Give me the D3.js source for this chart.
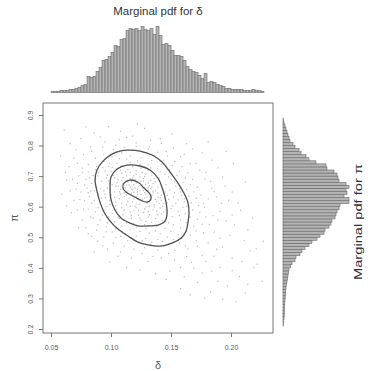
<!DOCTYPE html>
<html>
<head>
<meta charset="utf-8">
<script src="https://cdn.jsdelivr.net/npm/d3@7/dist/d3.min.js"></script>
<style>
  html, body { margin: 0; padding: 0; background: #fff; }
  svg { display: block; font-family: "Liberation Sans", Arial, Helvetica, sans-serif; }
</style>
</head>
<body>
<svg id="chart" width="368" height="371"></svg>
<script>
// ---- Axis ticks ----
const deltaTicks = [0.05, 0.10, 0.15, 0.20];
const piTicks = [0.2, 0.3, 0.4, 0.5, 0.6, 0.7, 0.8, 0.9];

// ---- Marginal histogram of delta (bins of 0.0025 starting at 0.05) ----
const deltaBinStart = 0.05;
const deltaBinWidth = 0.0025;
const deltaCounts = [10,10,10,20,20,20,30,30,40,50,70,80,160,150,160,210,250,320,330,360,
  400,470,460,530,540,620,640,630,640,620,660,630,620,640,580,660,570,480,490,470,
  420,370,370,360,320,260,230,210,200,170,140,190,100,110,100,80,70,60,40,40,
  30,30,30,30,20,20,20,30,20,20,10];

// ---- Marginal histogram of pi (bins of 0.01 starting at 0.21) ----
const piBinStart = 0.21;
const piBinWidth = 0.01;
const piCounts = [7,8,10,12,13,15,17,18,20,22,25,27,30,33,40,45,50,55,60,75,
  90,120,130,170,190,220,260,290,340,370,410,420,460,480,490,520,530,540,560,570,
  660,660,610,640,630,660,630,560,550,540,510,440,430,330,260,230,180,160,120,100,
  70,60,50,40,30,20,10,5,0,0,0];

// ---- Joint posterior draws (delta, pi) ----
const deltaDraws = [
  0.118,0.122,0.126,0.129,0.115,0.121,0.131,0.124,0.117,0.128,0.134,0.112,0.120,0.126,0.133,0.119,0.123,0.137,0.114,0.127,
  0.130,0.110,0.125,0.139,0.116,0.132,0.121,0.108,0.136,0.119,0.127,0.113,0.124,0.141,0.118,0.131,0.109,0.135,0.122,0.129,
  0.115,0.126,0.138,0.111,0.133,0.120,0.117,0.142,0.106,0.128,
  0.102,0.098,0.105,0.112,0.118,0.126,0.134,0.140,0.146,0.149,0.152,0.147,0.150,0.144,0.139,0.131,0.123,0.116,0.109,0.104,
  0.100,0.097,0.103,0.107,0.113,0.119,0.127,0.135,0.143,0.148,0.145,0.141,0.136,0.129,0.121,0.113,0.106,0.101,0.154,0.156,
  0.151,0.143,0.134,0.125,0.117,0.110,0.104,0.099,0.095,0.094,0.096,0.100,0.108,0.116,0.124,0.133,0.141,0.148,0.153,0.157,
  0.159,0.161,0.160,0.157,0.148,0.138,0.128,0.119,0.111,0.106,
  0.090,0.087,0.088,0.089,0.091,0.094,0.098,0.103,0.109,0.116,0.124,0.132,0.141,0.150,0.158,0.163,0.166,0.168,0.167,0.165,
  0.163,0.160,0.155,0.149,0.142,0.134,0.125,0.116,0.107,0.099,0.093,0.085,0.084,0.083,0.086,0.089,0.093,0.097,0.104,0.112,
  0.121,0.129,0.139,0.147,0.156,0.163,0.169,0.172,0.174,0.173,0.171,0.169,0.166,0.162,0.157,0.151,0.144,0.136,0.127,0.118,
  0.109,0.101,0.094,0.088,0.081,0.079,0.080,0.082,
  0.072,0.066,0.061,0.075,0.083,0.095,0.104,0.113,0.121,0.132,0.146,0.158,0.171,0.179,0.183,0.186,0.181,0.178,0.185,0.182,
  0.177,0.171,0.162,0.153,0.144,0.133,0.123,0.114,0.104,0.096,0.089,0.083,0.077,0.074,0.071,0.068,0.076,0.192,0.196,0.191,
  0.188,0.201,0.176,0.167,0.158,0.184,0.207,0.197,0.212,0.204,0.219,0.214,0.208,0.195,0.189,0.168,0.141,0.128,0.098,0.086,
  0.062,0.067,0.081,0.093,0.108,0.135,0.149,0.172,0.221,0.226,
  0.097,0.103,0.109,0.114,0.119,0.125,0.131,0.137,0.143,0.147,0.153,0.156,0.151,0.146,0.141,0.137,0.129,0.121,0.114,0.108,
  0.104,0.099,0.092,0.091,0.095,0.099,0.104,0.111,0.117,0.124,0.132,0.138,0.144,0.139,0.135,0.131,0.127,0.121,0.116,0.108,
  0.101,0.095,0.089,0.086,0.092,0.096,0.101,0.107,0.113,0.121,0.129,0.137,0.145,0.152,0.158,0.162,0.163,0.161,0.158,0.154,
  0.150,0.145,0.139,0.131,0.122,0.113,0.105,0.098,0.092,0.087,0.082,0.078,0.081,0.084,0.087,0.091,0.096,0.101,0.108,0.117,
  0.126,0.134,0.143,0.152,0.159,0.166,0.171,0.176,0.179,0.177,0.175,0.172,0.168,0.164,0.159,0.153,0.147,0.139,0.131,0.121,
  0.111,0.102,0.094,0.087,0.081,0.076,0.073,0.072,0.075,0.078,0.081,0.085,0.088,0.094,0.102,0.111,0.119,0.128,0.139,0.148,
  0.157,0.164,0.172,0.181,0.186,0.189,0.191,0.188,0.184,0.178,0.174,0.166,0.161,0.152,0.142,0.133,0.118,0.107,0.093,0.084,
  0.077,0.069,0.065,0.063,0.066,0.069,0.072,0.076,0.079,0.084,0.089,0.097,0.106,0.117,0.126,0.131,0.142,0.153,0.163,0.169,
  0.179,0.186,0.193,0.199,0.203,0.201,0.198,0.201,0.193,0.184,0.176,0.163,0.151,0.122,0.108,0.091,0.079,0.071,0.058,0.059,
  0.063,0.073,0.086,0.099,0.113,0.124,0.137,0.146,0.161,0.176,0.191,0.209,0.216,0.211,0.218,0.206,0.212,0.202,0.196,0.181,
  0.158,0.183,0.193,0.189,0.201,0.214,0.178,0.166,0.222,0.227,
  0.120,0.124,0.128,0.116,0.113,0.122,0.130,0.126,0.119,0.133,0.125,0.121,0.117,0.114,0.129,0.134,0.137,0.140,0.132,0.124,
  0.111,0.107,0.105,0.110,0.118,0.123,0.128,0.136,0.142,0.144,0.139,0.135,0.128,0.114,0.109,0.103,0.109,0.116,0.131,0.142
];
const piDraws = [
  0.655,0.648,0.662,0.641,0.671,0.633,0.652,0.676,0.644,0.628,0.637,0.662,0.689,0.618,0.659,0.626,0.667,0.624,0.651,0.684,
  0.612,0.676,0.640,0.645,0.691,0.668,0.609,0.657,0.606,0.672,0.653,0.638,0.697,0.629,0.615,0.677,0.685,0.651,0.657,0.599,
  0.628,0.671,0.616,0.646,0.686,0.601,0.682,0.638,0.667,0.661,
  0.702,0.684,0.721,0.714,0.731,0.712,0.703,0.694,0.672,0.655,0.631,0.612,0.594,0.583,0.574,0.566,0.572,0.583,0.597,0.615,
  0.638,0.661,0.648,0.626,0.606,0.588,0.581,0.589,0.601,0.624,0.648,0.671,0.692,0.706,0.717,0.701,0.689,0.672,0.611,0.584,
  0.567,0.556,0.549,0.556,0.562,0.574,0.589,0.607,0.629,0.652,0.694,0.716,0.733,0.745,0.738,0.727,0.714,0.698,0.681,0.659,
  0.638,0.616,0.598,0.571,0.547,0.537,0.541,0.546,0.556,0.566,
  0.712,0.689,0.664,0.638,0.612,0.588,0.566,0.551,0.537,0.526,0.519,0.514,0.511,0.519,0.531,0.548,0.566,0.589,0.612,0.634,
  0.657,0.679,0.702,0.721,0.738,0.751,0.759,0.766,0.757,0.741,0.728,0.702,0.676,0.651,0.621,0.597,0.573,0.547,0.528,0.512,
  0.503,0.496,0.493,0.501,0.508,0.518,0.536,0.559,0.581,0.604,0.627,0.648,0.672,0.694,0.716,0.734,0.752,0.767,0.778,0.784,
  0.776,0.763,0.748,0.731,0.714,0.689,0.661,0.633,
  0.742,0.806,0.851,0.823,0.796,0.812,0.801,0.826,0.809,0.796,0.781,0.763,0.741,0.712,0.683,0.649,0.626,0.598,0.571,0.542,
  0.514,0.489,0.472,0.458,0.471,0.477,0.482,0.489,0.499,0.518,0.541,0.566,0.592,0.623,0.657,0.689,0.711,0.611,0.553,0.497,
  0.461,0.432,0.441,0.418,0.401,0.389,0.372,0.341,0.318,0.289,0.401,0.524,0.588,0.667,0.727,0.789,0.823,0.856,0.862,0.841,
  0.712,0.581,0.512,0.472,0.452,0.437,0.389,0.352,0.462,0.356,
  0.703,0.694,0.709,0.722,0.701,0.726,0.719,0.681,0.662,0.637,0.645,0.622,0.603,0.589,0.596,0.561,0.552,0.597,0.618,0.641,
  0.667,0.676,0.683,0.659,0.641,0.621,0.603,0.589,0.571,0.563,0.574,0.586,0.611,0.631,0.645,0.663,0.692,0.706,0.712,0.719,
  0.728,0.717,0.701,0.652,0.628,0.601,0.578,0.561,0.547,0.533,0.527,0.521,0.529,0.541,0.556,0.577,0.601,0.626,0.648,0.667,
  0.688,0.706,0.724,0.737,0.749,0.756,0.742,0.732,0.742,0.721,0.694,0.671,0.646,0.611,0.583,0.556,0.534,0.517,0.503,0.497,
  0.488,0.484,0.486,0.492,0.497,0.507,0.521,0.543,0.566,0.611,0.638,0.664,0.689,0.711,0.731,0.748,0.766,0.778,0.789,0.797,
  0.794,0.786,0.771,0.758,0.738,0.726,0.701,0.676,0.648,0.619,0.592,0.563,0.523,0.501,0.481,0.471,0.461,0.466,0.458,0.447,
  0.481,0.462,0.471,0.482,0.517,0.556,0.584,0.632,0.661,0.691,0.719,0.741,0.771,0.792,0.807,0.817,0.831,0.819,0.796,0.781,
  0.771,0.759,0.731,0.688,0.652,0.621,0.589,0.556,0.531,0.503,0.487,0.461,0.438,0.432,0.447,0.421,0.432,0.426,0.437,0.398,
  0.421,0.438,0.468,0.506,0.541,0.573,0.621,0.648,0.697,0.752,0.776,0.806,0.838,0.871,0.846,0.828,0.861,0.786,0.766,0.641,
  0.603,0.531,0.451,0.419,0.401,0.393,0.381,0.362,0.371,0.383,0.401,0.421,0.456,0.489,0.563,0.612,0.681,0.741,0.781,0.812,
  0.332,0.321,0.297,0.356,0.391,0.346,0.301,0.312,0.412,0.487,
  0.661,0.652,0.646,0.664,0.671,0.639,0.631,0.625,0.647,0.622,0.683,0.678,0.658,0.643,0.673,0.664,0.652,0.611,0.602,0.608,
  0.633,0.648,0.679,0.695,0.694,0.589,0.593,0.599,0.621,0.643,0.664,0.676,0.699,0.681,0.664,0.631,0.611,0.601,0.584,0.577
];

// ---- Highest-density contour lines (delta, pi) ----
const contourOuter = [
  [0.1142,0.785],[0.1242,0.782],[0.1342,0.769],[0.1425,0.746],[0.1492,0.713],[0.1558,0.677],
  [0.1608,0.644],[0.1642,0.612],[0.1650,0.579],[0.1642,0.550],[0.1625,0.520],[0.1583,0.497],
  [0.1508,0.481],[0.1408,0.471],[0.1308,0.475],[0.1225,0.484],[0.1142,0.504],[0.1058,0.527],
  [0.0992,0.553],[0.0942,0.582],[0.0908,0.615],[0.0883,0.651],[0.0867,0.687],[0.0883,0.720],
  [0.0933,0.749],[0.1008,0.772],[0.1075,0.782]
];
const contourMiddle = [
  [0.1133,0.736],[0.1242,0.733],[0.1325,0.720],[0.1392,0.693],[0.1433,0.654],[0.1458,0.615],
  [0.1467,0.579],[0.1450,0.553],[0.1392,0.540],[0.1308,0.537],[0.1225,0.537],[0.1158,0.546],
  [0.1083,0.563],[0.1033,0.589],[0.1000,0.622],[0.0992,0.661],[0.1000,0.697],[0.1050,0.723]
];
const contourInner = [
  [0.1108,0.677],[0.1158,0.687],[0.1225,0.680],[0.1275,0.661],[0.1325,0.641],[0.1333,0.625],
  [0.1300,0.615],[0.1242,0.622],[0.1183,0.635],[0.1125,0.648],[0.1100,0.661]
];

// ---- Layout ----
const svg = d3.select("#chart");
const box = { left: 43, right: 273, top: 103, bottom: 333 };
const ink = "#5a5a5a";
const frame = "#777";

const x = d3.scaleLinear().domain([0.0433, 0.235]).range([box.left, box.right]);
const y = d3.scaleLinear().domain([0.187, 0.939]).range([box.bottom, box.top]);

// ---- Scatter of joint draws ----
const draws = deltaDraws.map((d, i) => [d, piDraws[i]]);
svg.append("g")
  .selectAll("rect")
  .data(draws)
  .join("rect")
  .attr("x", d => x(d[0]) - 0.6)
  .attr("y", d => y(d[1]) - 0.6)
  .attr("width", 1.2)
  .attr("height", 1.2)
  .attr("fill", "#bcbcbc");

// ---- Contours ----
const line = d3.line()
  .x(d => x(d[0]))
  .y(d => y(d[1]))
  .curve(d3.curveCatmullRomClosed.alpha(0.5));
svg.append("g")
  .selectAll("path")
  .data([contourOuter, contourMiddle, contourInner])
  .join("path")
  .attr("d", line)
  .attr("fill", "none")
  .attr("stroke", "#505050")
  .attr("stroke-width", 1.3);

// ---- Frame ----
svg.append("rect")
  .attr("x", box.left).attr("y", box.top)
  .attr("width", box.right - box.left).attr("height", box.bottom - box.top)
  .attr("fill", "none").attr("stroke", frame).attr("stroke-width", 1);

// ---- Bottom axis ----
const gx = svg.append("g")
  .attr("transform", `translate(0,${box.bottom})`)
  .call(d3.axisBottom(x).tickValues(deltaTicks).tickFormat(d3.format(".2f")).tickSize(4).tickSizeOuter(0));
gx.select(".domain").remove();
gx.selectAll("line").attr("stroke", frame);
gx.selectAll("text")
  .attr("y", 17).attr("dy", 0)
  .attr("fill", ink).style("font-size", "7px");

// ---- Left axis (labels parallel to the axis) ----
const gy = svg.append("g")
  .attr("transform", `translate(${box.left},0)`)
  .call(d3.axisLeft(y).tickValues(piTicks).tickFormat(d3.format(".1f")).tickSize(4).tickSizeOuter(0));
gy.select(".domain").remove();
gy.selectAll("line").attr("stroke", frame);
gy.selectAll("text")
  .attr("x", 0).attr("y", -10).attr("dy", 0)
  .attr("transform", "rotate(-90)")
  .attr("text-anchor", "middle")
  .attr("fill", ink).style("font-size", "7px");

// ---- Axis titles ----
svg.append("text")
  .attr("x", (box.left + box.right) / 2).attr("y", 369)
  .attr("text-anchor", "middle").attr("fill", ink)
  .style("font-size", "11px").text("δ");
svg.append("text")
  .attr("transform", `translate(18,${(box.top + box.bottom) / 2}) rotate(-90)`)
  .attr("text-anchor", "middle").attr("fill", ink)
  .style("font-size", "11px").text("π");

// ---- Top marginal histogram ----
const hTop = d3.scaleLinear().domain([0, 700]).range([92.5, 22.5]);
svg.append("g")
  .selectAll("rect")
  .data(deltaCounts)
  .join("rect")
  .attr("x", (c, i) => x(deltaBinStart + i * deltaBinWidth))
  .attr("width", (c, i) => x(deltaBinStart + (i + 1) * deltaBinWidth) - x(deltaBinStart + i * deltaBinWidth))
  .attr("y", c => hTop(c))
  .attr("height", c => hTop(0) - hTop(c))
  .attr("fill", "#b4b4b4")
  .attr("stroke", "#6a6a6a")
  .attr("stroke-width", 0.6);

svg.append("text")
  .attr("x", (box.left + box.right) / 2).attr("y", 15)
  .attr("text-anchor", "middle").attr("fill", "#333")
  .style("font-size", "11.5px").text("Marginal pdf for δ");

// ---- Right marginal histogram ----
const hRight = d3.scaleLinear().domain([0, 700]).range([283, 353]);
svg.append("g")
  .selectAll("rect")
  .data(piCounts)
  .join("rect")
  .attr("x", hRight(0))
  .attr("y", (c, i) => y(piBinStart + (i + 1) * piBinWidth))
  .attr("height", (c, i) => y(piBinStart + i * piBinWidth) - y(piBinStart + (i + 1) * piBinWidth))
  .attr("width", c => hRight(c) - hRight(0))
  .attr("fill", "#b4b4b4")
  .attr("stroke", "#6a6a6a")
  .attr("stroke-width", 0.6);

svg.append("text")
  .attr("transform", `translate(362,222) rotate(-90)`)
  .attr("text-anchor", "middle").attr("fill", "#333")
  .attr("textLength", 116).attr("lengthAdjust", "spacingAndGlyphs")
  .style("font-size", "11px").text("Marginal pdf for π");
</script>
</body>
</html>
